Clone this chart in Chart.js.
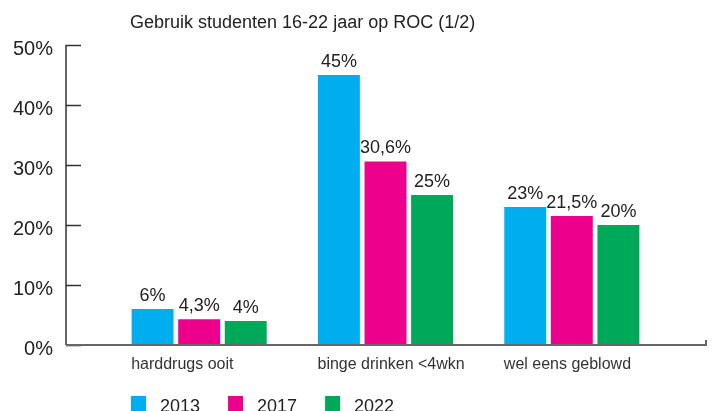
<!DOCTYPE html>
<html>
<head>
<meta charset="utf-8">
<script src="https://cdn.jsdelivr.net/npm/chart.js@4"></script>
<style>
  body { margin: 0; background: #fff; }
  #wrap { width: 715px; height: 411px; }
</style>
</head>
<body>
<div id="wrap"><canvas id="myChart"></canvas></div>
<script>
var categories = ['harddrugs ooit', 'binge drinken <4wkn', 'wel eens geblowd'];
var years = ['2013', '2017', '2022'];
var values2013 = [6, 45, 23];
var values2017 = [4.3, 30.6, 21.5];
var values2022 = [4, 25, 20];
var yTicks = [0, 10, 20, 30, 40, 50];
var titleText = 'Gebruik studenten 16-22 jaar op ROC (1/2)';

var colors = ['#00aeef', '#ec008c', '#00a859'];
var fontFamily = '"Liberation Sans", Arial, Helvetica, sans-serif';

var element = document.getElementById('myChart').getContext('2d');

// value labels above every bar, dutch comma
var valueLabels = {
    id: 'valueLabels',
    afterDatasetsDraw: function (chart) {
        var ctx = chart.ctx;
        ctx.save();
        ctx.font = '18px ' + fontFamily;
        ctx.fillStyle = '#222';
        ctx.textAlign = 'center';
        ctx.textBaseline = 'alphabetic';
        chart.data.datasets.forEach(function (ds, i) {
            var meta = chart.getDatasetMeta(i);
            meta.data.forEach(function (bar, j) {
                var txt = String(ds.data[j]).replace('.', ',') + '%';
                ctx.fillText(txt, bar.x, bar.y - 8);
            });
        });
        ctx.restore();
    }
};

// axis lines drawn wider than the bar area, like the original
var axisLines = {
    id: 'axisLines',
    afterDraw: function (chart) {
        var ctx = chart.ctx;
        var y = chart.scales.y;
        var x0 = 66;
        var top = y.getPixelForValue(50);
        var bottom = y.getPixelForValue(0);
        ctx.save();
        // y axis + inward ticks
        ctx.strokeStyle = '#333';
        ctx.lineWidth = 1.5;
        ctx.beginPath();
        ctx.moveTo(x0, top);
        ctx.lineTo(x0, bottom);
        yTicks.forEach(function (v) {
            var py = Math.round(y.getPixelForValue(v)) + 0.5;
            ctx.moveTo(x0, py);
            ctx.lineTo(x0 + 15, py);
        });
        ctx.stroke();
        // x axis
        ctx.strokeStyle = '#666';
        ctx.lineWidth = 2;
        ctx.beginPath();
        ctx.moveTo(x0, bottom);
        ctx.lineTo(706, bottom);
        ctx.lineTo(706, bottom - 5);
        ctx.stroke();
        ctx.restore();
    }
};

// title and legend, placed like in the original picture
var titleLegend = {
    id: 'titleLegend',
    afterDraw: function (chart) {
        var ctx = chart.ctx;
        ctx.save();
        ctx.fillStyle = '#222';
        ctx.font = '18px ' + fontFamily;
        ctx.textBaseline = 'alphabetic';
        ctx.textAlign = 'left';
        ctx.fillText(titleText, 130, 28);

        var x = 131;
        chart.data.datasets.forEach(function (ds) {
            ctx.fillStyle = ds.backgroundColor;
            ctx.fillRect(x, 396, 15, 16);
            ctx.fillStyle = '#222';
            ctx.fillText(ds.label, x + 29, 412);
            x += 29 + ctx.measureText(ds.label).width + 28;
        });
        ctx.restore();
    }
};

var chartData = {
    labels: categories,
    datasets: [
        { label: years[0], data: values2013, backgroundColor: colors[0] },
        { label: years[1], data: values2017, backgroundColor: colors[1] },
        { label: years[2], data: values2022, backgroundColor: colors[2] }
    ]
};

var chartOptions = {
    responsive: true,
    maintainAspectRatio: false,
    animation: false,
    layout: {
        padding: { left: 0, right: 50, top: 45, bottom: 0 }
    },
    datasets: {
        bar: { categoryPercentage: 0.75, barPercentage: 0.9 }
    },
    plugins: {
        legend: { display: false },
        title: { display: false },
        tooltip: { enabled: false }
    },
    scales: {
        x: {
            grid: { display: false },
            border: { display: false },
            ticks: {
                align: 'start',
                labelOffset: -68,
                padding: 2,
                color: '#333',
                font: { family: fontFamily, size: 16 }
            },
            afterFit: function (scale) { scale.height = 66; }
        },
        y: {
            min: 0,
            max: 50,
            grid: { display: false },
            border: { display: false },
            ticks: {
                stepSize: 10,
                padding: 45,
                labelOffset: 4,
                color: '#222',
                font: { family: fontFamily, size: 20 },
                callback: function (v) { return v + '%'; }
            },
            afterFit: function (scale) {
                scale.width = 106;
                // tick padding should not push the plot down
                scale.paddingTop = 0;
                scale.paddingBottom = 0;
            }
        }
    }
};

var chart = new Chart(element, {
    type: 'bar',
    data: chartData,
    options: chartOptions,
    plugins: [valueLabels, axisLines, titleLegend]
});
</script>
</body>
</html>
